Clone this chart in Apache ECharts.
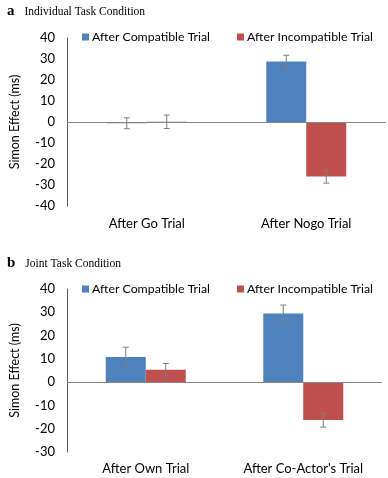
<!DOCTYPE html>
<html>
<head>
<meta charset="utf-8">
<script src="https://cdn.jsdelivr.net/npm/echarts@6/dist/echarts.min.js"></script>
<style>
  html, body { margin: 0; padding: 0; background: #fff; }
  #chart { width: 388px; height: 478px; }
</style>
</head>
<body>
<div id="chart"></div>
<script>
// data
const seriesNames = ['After Compatible Trial', 'After Incompatible Trial'];
const catsA = ['After Go Trial', 'After Nogo Trial'];
const compatA = [-0.6, 28.8];
const compatErrA = [2.6, 3.0];
const incompatA = [0.1, -26];
const incompatErrA = [3.2, 3.1];

const catsB = ['After Own Trial', "After Co-Actor's Trial"];
const compatB = [10.8, 29.5];
const compatErrB = [4.2, 3.6];
const incompatB = [5.3, -16.3];
const incompatErrB = [2.7, 3.0];

const yTicksA = [-40, 40, 10];
const yTicksB = [-30, 40, 10];

const blue = '#4F81BD';
const red = '#C0504D';
const font = 'Lato';
const barW = 40;

let chart = echarts.init(document.getElementById('chart'), null, { renderer: 'canvas' });

function errSeries(name, idx, vals, errs, side) {
    return {
        type: 'custom',
        name: name,
        xAxisIndex: idx,
        yAxisIndex: idx,
        silent: true,
        z: 5,
        data: vals.map((v, i) => [i, v - errs[i], v + errs[i]]),
        renderItem: function (params, api) {
            const lo = api.coord([api.value(0), api.value(1)]);
            const hi = api.coord([api.value(0), api.value(2)]);
            const x = lo[0] + side * barW / 2;
            const cap = 3;
            const style = { stroke: '#7f7f7f', lineWidth: 1 };
            return {
                type: 'group',
                children: [
                    { type: 'line', shape: { x1: x, y1: lo[1], x2: x, y2: hi[1] }, style: style },
                    { type: 'line', shape: { x1: x - cap, y1: lo[1], x2: x + cap, y2: lo[1] }, style: style },
                    { type: 'line', shape: { x1: x - cap, y1: hi[1], x2: x + cap, y2: hi[1] }, style: style }
                ]
            };
        }
    };
}

function barSeries(name, idx, vals, color, withZero) {
    let s = {
        type: 'bar',
        name: name,
        xAxisIndex: idx,
        yAxisIndex: idx,
        data: vals,
        barWidth: barW,
        barGap: '0%',
        itemStyle: { color: color },
        z: 2
    };
    if (withZero) {
        s.markLine = {
            silent: true,
            symbol: 'none',
            label: { show: false },
            lineStyle: { color: '#868686', type: 'solid', width: 1 },
            data: [{ yAxis: 0 }],
            z: 3
        };
    }
    return s;
}

function xAxisFor(idx, cats, margin) {
    return {
        type: 'category',
        gridIndex: idx,
        data: cats,
        axisLine: { show: false, onZero: false },
        axisTick: { show: false },
        axisLabel: { fontFamily: font, fontSize: 13, color: '#000', margin: margin }
    };
}

function yAxisFor(idx, ticks) {
    return {
        type: 'value',
        gridIndex: idx,
        min: ticks[0],
        max: ticks[1],
        interval: ticks[2],
        name: 'Simon Effect (ms)',
        nameLocation: 'middle',
        nameRotate: 90,
        nameGap: 46,
        nameTextStyle: { fontFamily: font, fontSize: 12.5, color: '#000' },
        splitLine: { show: false },
        axisLine: { show: true, lineStyle: { color: '#595959', width: 1 } },
        axisTick: { show: false },
        axisLabel: { fontFamily: font, fontSize: 13, color: '#000', margin: 12 }
    };
}

function titleFor(letter, text, top) {
    return {
        text: '{l|' + letter + '}{t|' + text + '}',
        left: 7,
        top: top,
        padding: 0,
        textStyle: {
            rich: {
                l: { fontFamily: 'Liberation Serif', fontWeight: 'bold', fontSize: 15, color: '#000' },
                t: { fontFamily: 'Liberation Serif', fontWeight: 'normal', fontSize: 11.5, color: '#000', padding: [0, 0, 0, 10] }
            }
        }
    };
}

function legendFor(top) {
    return {
        top: top,
        left: 82,
        width: 306,
        orient: 'horizontal',
        data: seriesNames,
        itemWidth: 7,
        itemHeight: 7,
        itemGap: 27,
        icon: 'rect',
        selectedMode: false,
        padding: 0,
        textStyle: { fontFamily: font, fontSize: 12.3, color: '#000', padding: [0, 0, 0, -2] }
    };
}

let option = {
    animation: false,
    title: [titleFor('a', 'Individual Task Condition', 4), titleFor('b', 'Joint Task Condition', 256)],
    legend: [legendFor(31), legendFor(283)],
    grid: [
        { left: 50, right: 2, top: 38, height: 168 },
        { left: 50, right: 6, top: 289, height: 163 }
    ],
    xAxis: [xAxisFor(0, catsA, 11), xAxisFor(1, catsB, 10)],
    yAxis: [yAxisFor(0, yTicksA), yAxisFor(1, yTicksB)],
    series: [
        barSeries(seriesNames[0], 0, compatA, blue, true),
        barSeries(seriesNames[1], 0, incompatA, red, false),
        errSeries('errA1', 0, compatA, compatErrA, -1),
        errSeries('errA2', 0, incompatA, incompatErrA, 1),
        barSeries(seriesNames[0], 1, compatB, blue, true),
        barSeries(seriesNames[1], 1, incompatB, red, false),
        errSeries('errB1', 1, compatB, compatErrB, -1),
        errSeries('errB2', 1, incompatB, incompatErrB, 1)
    ]
};

chart.setOption(option);
</script>
</body>
</html>
